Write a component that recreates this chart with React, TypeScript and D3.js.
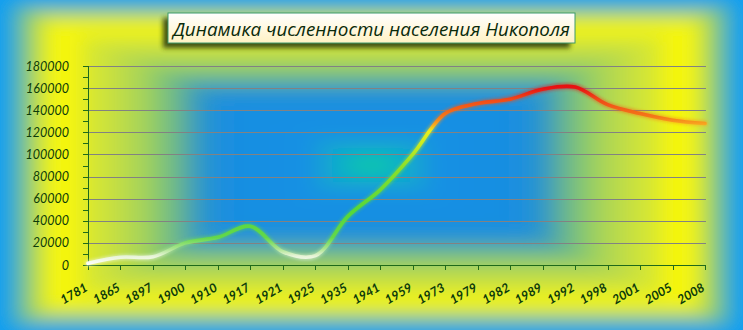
import React from 'react';
import * as d3 from 'd3';

const categories = ['1781','1865','1897','1900','1910','1917','1921','1925','1935','1941','1959','1973','1979','1982','1989','1992','1998','2001','2005','2008'];
const population = [1500, 7000, 7500, 20000, 25000, 35000, 12000, 8500, 44000, 68000, 100000, 137000, 146000, 150000, 159000, 161000, 145000, 137000, 131000, 128000];
const yTicks = [0, 20000, 40000, 60000, 80000, 100000, 120000, 140000, 160000, 180000];
const minorTicks = d3.range(0, 180001, 10000);
const title = 'Динамика численности населения Никополя';

const W = 743, H = 330;
const bgStops: [number, string][] = [
  [0, '#0c9ef2'], [0.03, '#2aa8d8'], [0.07, '#80c680'], [0.11, '#d0e434'], [0.15, '#f8f808'],
  [0.2, '#f4f40a'], [0.24, '#d8e830'], [0.3, '#c8e040'], [0.38, '#a8d458'], [0.43, '#88c870'],
  [0.49, '#60b098'], [0.54, '#3098c8'], [0.6, '#1a8ee0'], [0.82, '#1690e4'], [0.92, '#10b0c8'], [1, '#10d0a0'],
];
const lineStops: [number, string][] = [
  [0, '#ffffff'], [8000, '#e8f4d8'], [15000, '#a8e48c'], [25000, '#62d84a'], [50000, '#56d838'],
  [90000, '#8ee02a'], [110000, '#ccec20'], [121000, '#eaf01c'], [127000, '#f8a820'], [134000, '#f57818'],
  [150000, '#f04818'], [160000, '#e81212'], [180000, '#e00000'],
];

export default function App() {
  const left = 88, right = 705, top = 66, bottom = 265;
  const x = d3.scalePoint<string>().domain(categories).range([left, right]);
  const y = d3.scaleLinear().domain([0, 180000]).range([bottom, top]);
  const line = d3.line<number>()
    .x((_, i) => x(categories[i]) as number)
    .y(d => y(d))
    .curve(d3.curveCatmullRom.alpha(0.5));
  const cx = W / 2, cy = H / 2;
  const k = 1.25;
  const P = (sx: number, sy: number) => `${cx + sx * k * cx},${cy + sy * k * cy}`;
  const grad = (id: string, x1: number, y1: number, x2: number, y2: number) => (
    <linearGradient id={id} gradientUnits="userSpaceOnUse" x1={x1} y1={y1} x2={x2} y2={y2}>
      {bgStops.map(([o, c], i) => <stop key={i} offset={o} stopColor={c} />)}
    </linearGradient>
  );
  const axisColor = '#1f6a1a';
  const textColor = '#0b3a0b';
  return (
    <svg width={W} height={H} style={{ position: 'absolute', left: 0, top: 0, display: 'block' }}>
      <defs>
        {grad('gT', 0, 0, 0, cy)}
        {grad('gB', 0, H, 0, cy)}
        {grad('gL', 0, 0, cx, 0)}
        {grad('gR', W, 0, cx, 0)}
        <linearGradient id="lineG" gradientUnits="userSpaceOnUse" x1={0} y1={y(0)} x2={0} y2={y(180000)}>
          {lineStops.map(([v, c], i) => <stop key={i} offset={v / 180000} stopColor={c} />)}
        </linearGradient>
        <linearGradient id="titleG" x1="0" y1="0" x2="0" y2="1">
          <stop offset="0" stopColor="#ffffff" />
          <stop offset="1" stopColor="#fff2c4" />
        </linearGradient>
        <filter id="shadow" x="-10%" y="-50%" width="120%" height="200%">
          <feGaussianBlur stdDeviation="2.5" />
        </filter>
        <filter id="glow" x="-5%" y="-20%" width="110%" height="140%">
          <feGaussianBlur stdDeviation="1.6" />
        </filter>
        <filter id="soft" x="-20%" y="-30%" width="140%" height="160%">
          <feGaussianBlur stdDeviation="9" />
        </filter>
      </defs>
      <g filter="url(#soft)">
        <polygon points={`${P(-1, -1)} ${P(1, -1)} ${P(1, 0)} ${P(-1, 0)}`} fill="url(#gT)" />
        <polygon points={`${P(-1, 1)} ${P(1, 1)} ${P(1, 0)} ${P(-1, 0)}`} fill="url(#gB)" />
        <polygon points={`${P(-1, -1)} ${cx},${cy} ${P(-1, 1)}`} fill="url(#gL)" />
        <polygon points={`${P(1, -1)} ${cx},${cy} ${P(1, 1)}`} fill="url(#gR)" />
      </g>

      {/* title */}
      <rect x={163} y={18} width={407} height={30} fill="#28380a" opacity={0.85} filter="url(#shadow)" />
      <rect x={168} y={13} width={407} height={30} fill="url(#titleG)" stroke="#3c9a6c" strokeWidth={1} />
      <text x={173} y={36} fontFamily="'Open Sans', 'DejaVu Sans', sans-serif" fontStyle="italic" fontSize={18.5}
        fontWeight={500} fill="#0a2a0a" textLength={397} lengthAdjust="spacingAndGlyphs">{title}</text>

      {/* gridlines */}
      {yTicks.filter(t => t > 0).map(t => (
        <line key={t} x1={left} x2={right + 1} y1={Math.round(y(t)) + 0.5} y2={Math.round(y(t)) + 0.5}
          stroke="#828282" strokeWidth={1} />
      ))}

      {/* y axis */}
      <line x1={left + 0.5} x2={left + 0.5} y1={top} y2={bottom} stroke={axisColor} strokeWidth={1} />
      {minorTicks.map(t => (
        <line key={t} x1={left - 5} x2={left} y1={Math.round(y(t)) + 0.5} y2={Math.round(y(t)) + 0.5}
          stroke={axisColor} strokeWidth={1} />
      ))}
      {yTicks.map(t => (
        <text key={t} x={69} y={y(t)} dy="0.36em" textAnchor="end" fontFamily="Lato, 'Open Sans', sans-serif"
          fontStyle="italic" fontSize={12.5} fill={textColor}>{t}</text>
      ))}

      {/* x axis */}
      <line x1={left} x2={right + 1} y1={bottom + 0.5} y2={bottom + 0.5} stroke={axisColor} strokeWidth={1} />
      {categories.map(c => (
        <line key={c} x1={Math.round(x(c) as number) + 0.5} x2={Math.round(x(c) as number) + 0.5}
          y1={bottom} y2={bottom + 5} stroke={axisColor} strokeWidth={1} />
      ))}
      {categories.map(c => (
        <text key={c} transform={`translate(${(x(c) as number) + 0.5},290) rotate(-30)`} textAnchor="end"
          fontFamily="Lato, 'Open Sans', sans-serif" fontStyle="italic" fontWeight="bold" fontSize={12.5}
          fill={textColor}>{c}</text>
      ))}

      {/* data line */}
      <path d={line(population) || ''} fill="none" stroke="url(#lineG)" strokeWidth={6} opacity={0.55}
        filter="url(#glow)" strokeLinecap="round" />
      <path d={line(population) || ''} fill="none" stroke="url(#lineG)" strokeWidth={3.6} strokeLinecap="round"
        strokeLinejoin="round" />
    </svg>
  );
}
